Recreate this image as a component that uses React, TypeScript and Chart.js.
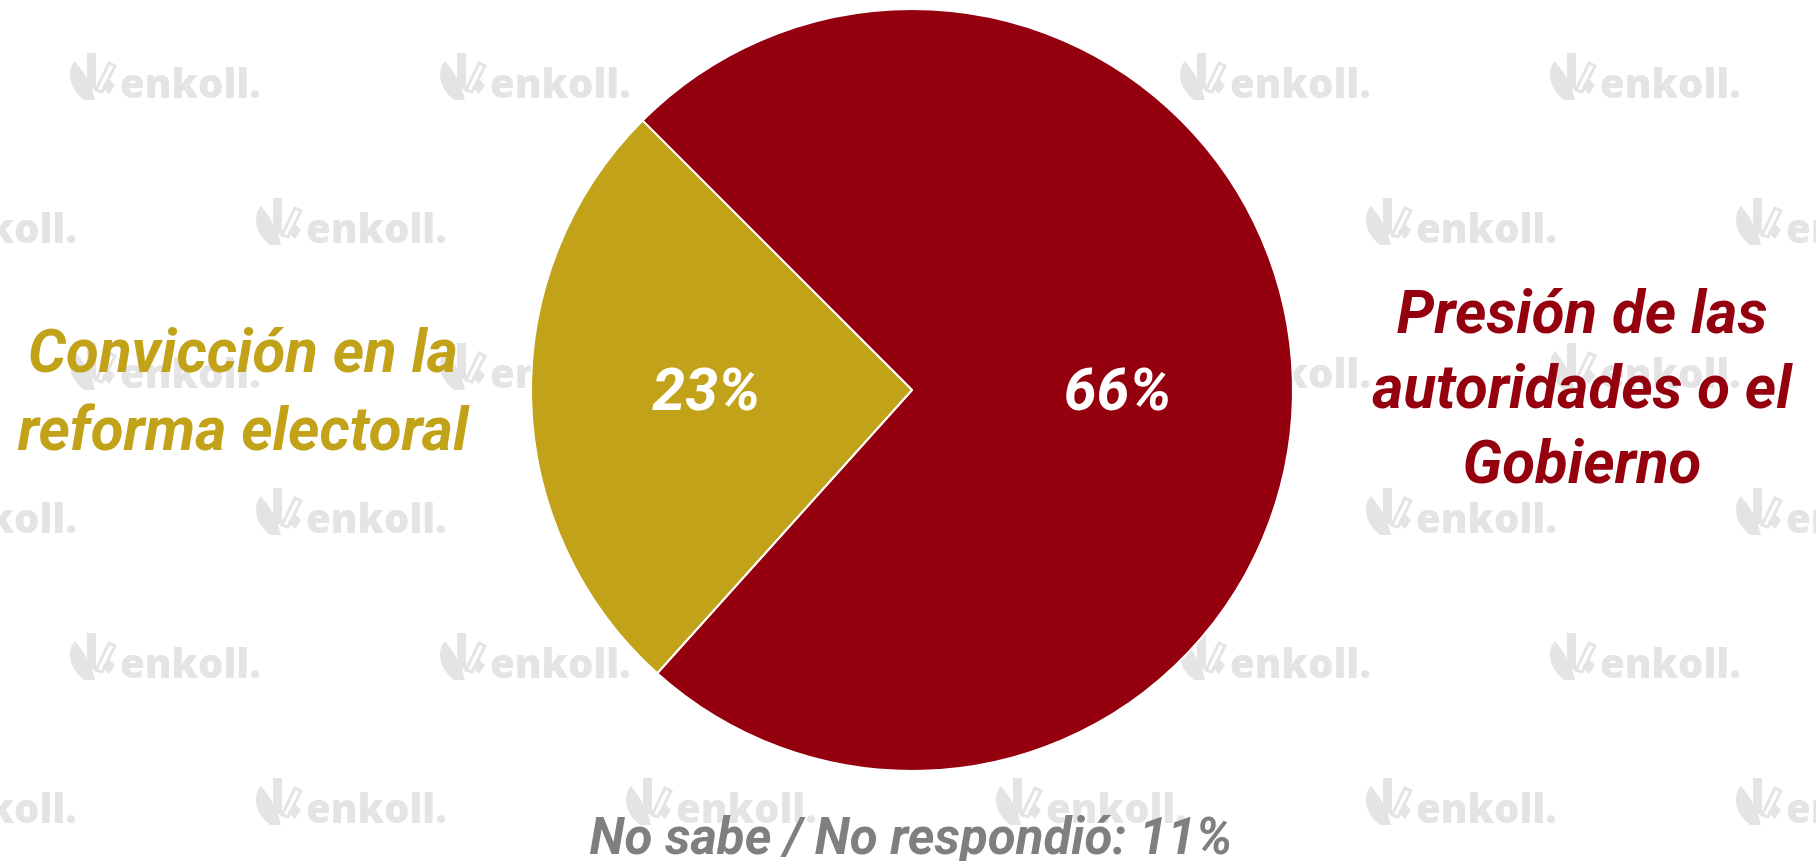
import React, { useEffect, useRef } from "react";
import { Chart, registerables } from "chart.js";

Chart.register(...registerables);

const categories = ["Presión de las autoridades o el Gobierno", "Convicción en la reforma electoral"];
const values = [66, 23];
const percentLabels = ["66%", "23%"];
const sliceColors = ["#94000E", "#C1A219"];
const rightLabelLines = ["Presión de las", "autoridades o el", "Gobierno"];
const leftLabelLines = ["Convicción en la", "reforma electoral"];
const noteText = "No sabe / No respondió: 11%";
const watermarkText = "enkoll.";

const W = 1816;
const H = 861;
const FONT = "Roboto, 'Open Sans', sans-serif";

function drawLogo(ctx: CanvasRenderingContext2D, x: number, y: number) {
  const c = "#e4e4e4";
  ctx.save();
  ctx.translate(x, y);
  ctx.fillStyle = c;
  ctx.strokeStyle = c;
  // left leaf
  ctx.beginPath();
  ctx.moveTo(5, 8);
  ctx.lineTo(14, 20);
  ctx.lineTo(22, 36);
  ctx.lineTo(25, 47);
  ctx.lineTo(14, 47);
  ctx.quadraticCurveTo(0, 36, 0, 22);
  ctx.quadraticCurveTo(0, 13, 5, 8);
  ctx.closePath();
  ctx.fill();
  // vertical bar
  ctx.fillRect(17, 0, 9, 36);
  // slash outline
  ctx.lineWidth = 3;
  ctx.beginPath();
  ctx.moveTo(26, 37);
  ctx.lineTo(39, 10);
  ctx.lineTo(45, 13);
  ctx.lineTo(32, 39);
  ctx.closePath();
  ctx.stroke();
  // small chevron
  ctx.beginPath();
  ctx.moveTo(32, 34);
  ctx.lineTo(39, 26);
  ctx.lineTo(45, 32);
  ctx.lineTo(39, 41);
  ctx.closePath();
  ctx.fill();
  // text
  ctx.font = "800 40px 'Open Sans', sans-serif";
  (ctx as any).letterSpacing = "0px";
  ctx.textAlign = "left";
  ctx.textBaseline = "alphabetic";
  ctx.fillText(watermarkText, 50, 45);
  ctx.restore();
}

const watermarkPlugin = {
  id: "watermarks",
  beforeDraw(chart: any) {
    const ctx: CanvasRenderingContext2D = chart.ctx;
    ctx.save();
    ctx.fillStyle = "#ffffff";
    ctx.fillRect(0, 0, chart.width, chart.height);
    for (let r = 0; r < 6; r++) {
      const top = 53 + r * 145;
      const start = r % 2 === 0 ? 70 : -114;
      for (let k = 0; k < 7; k++) {
        const left = start + k * 370;
        if (left > chart.width) break;
        drawLogo(ctx, left, top);
      }
    }
    ctx.restore();
  },
};

const labelsPlugin = {
  id: "labels",
  afterDraw(chart: any) {
    const ctx: CanvasRenderingContext2D = chart.ctx;
    const meta = chart.getDatasetMeta(0);
    ctx.save();
    // percentages inside slices
    ctx.fillStyle = "#ffffff";
    ctx.font = `italic bold 59px ${FONT}`;
    ctx.textAlign = "center";
    ctx.textBaseline = "alphabetic";
    meta.data.forEach((arc: any, i: number) => {
      const p = arc.getProps(["x", "y", "startAngle", "endAngle", "outerRadius"], true);
      const mid = (p.startAngle + p.endAngle) / 2;
      const rr = p.outerRadius * 0.54;
      const x = p.x + Math.cos(mid) * rr;
      ctx.fillText(percentLabels[i], x, p.y + 20);
    });
    // category labels
    ctx.font = `italic bold 60px ${FONT}`;
    ctx.fillStyle = sliceColors[1];
    leftLabelLines.forEach((t, i) => ctx.fillText(t, 243, 372 + i * 78));
    ctx.font = `italic bold 60px ${FONT}`;
    ctx.fillStyle = sliceColors[0];
    rightLabelLines.forEach((t, i) => ctx.fillText(t, 1582, 333 + i * 75));
    // note
    ctx.font = `italic bold 51px ${FONT}`;
    ctx.fillStyle = "#7f7f7f";
    ctx.fillText(noteText, 911, 854);
    ctx.restore();
  },
};

export default function App() {
  const ref = useRef<HTMLCanvasElement | null>(null);
  useEffect(() => {
    if (!ref.current) return;
    const chart = new Chart(ref.current, {
      type: "pie",
      data: {
        labels: categories,
        datasets: [
          {
            data: values,
            backgroundColor: sliceColors,
            borderColor: "#ffffff",
            borderWidth: 2,
          },
        ],
      },
      options: {
        responsive: false,
        animation: false,
        devicePixelRatio: 1,
        rotation: -45,
        layout: { padding: { top: 8, bottom: 89, left: 8, right: 0 } },
        plugins: { legend: { display: false }, tooltip: { enabled: false } },
      } as any,
      plugins: [watermarkPlugin, labelsPlugin],
    });
    return () => chart.destroy();
  }, []);
  return (
    <div style={{ position: "fixed", left: 0, top: 0, width: W, height: H, background: "#fff" }}>
      <canvas ref={ref} width={W} height={H} style={{ width: W, height: H, display: "block" }} />
    </div>
  );
}
